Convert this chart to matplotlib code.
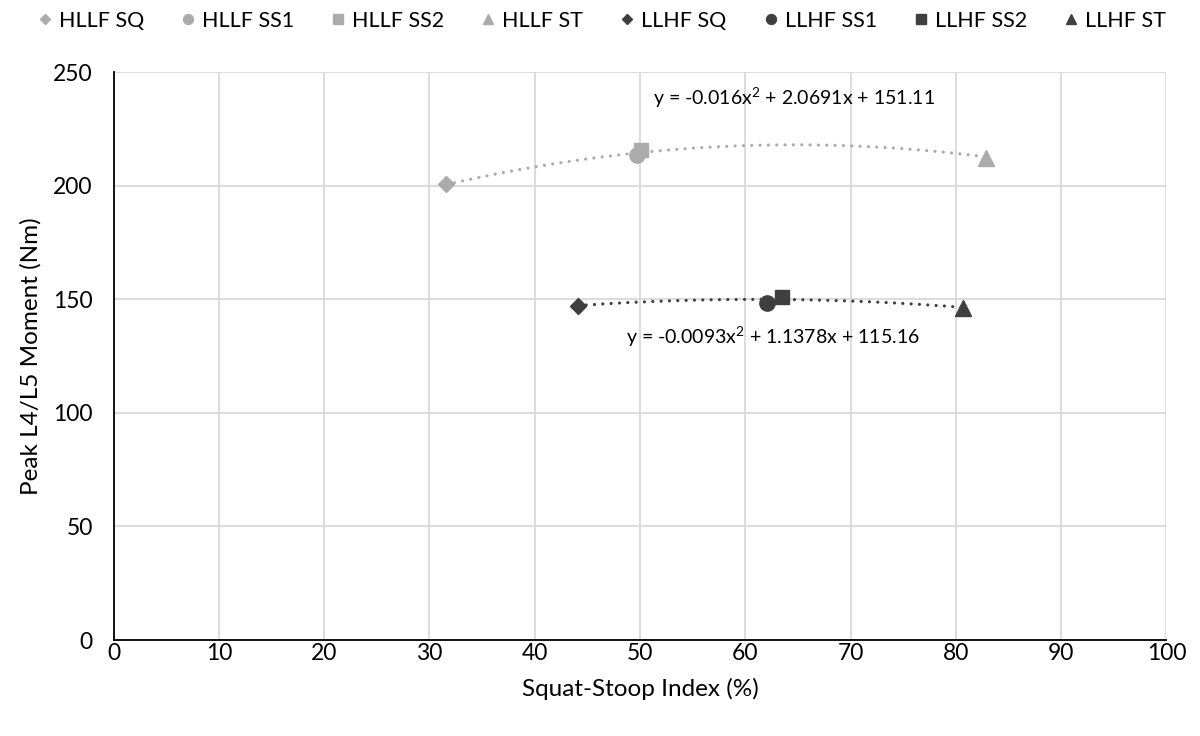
import numpy as np
import matplotlib
matplotlib.use("Agg")
import matplotlib.pyplot as plt

plt.rcParams['font.family'] = ['Lato', 'DejaVu Sans']
plt.rcParams['mathtext.fontset'] = 'custom'
plt.rcParams['mathtext.rm'] = 'Lato'
plt.rcParams['mathtext.it'] = 'Lato'
plt.rcParams['mathtext.default'] = 'rm'

# ---- data ----
series_names = ["HLLF SQ", "HLLF SS1", "HLLF SS2", "HLLF ST",
                "LLHF SQ", "LLHF SS1", "LLHF SS2", "LLHF ST"]
ssi_hllf = [31.6, 49.7, 50.1, 82.9]
moment_hllf = [200.6, 213.5, 215.7, 212.0]
ssi_llhf = [44.1, 62.1, 63.5, 80.7]
moment_llhf = [147.1, 148.2, 151.1, 146.0]
coef_hllf = [-0.016, 2.0691, 151.11]
coef_llhf = [-0.0093, 1.1378, 115.16]
eq_hllf = "y = -0.016x$^{2}$ + 2.0691x + 151.11"
eq_llhf = "y = -0.0093x$^{2}$ + 1.1378x + 115.16"
x_ticks = list(range(0, 101, 10))
y_ticks = list(range(0, 251, 50))

c_light = "#ABABAB"
c_dark = "#3F3F3F"
markers = ['D', 'o', 's', '^']
msizes = [8.5, 11, 10, 11]

fig = plt.figure(figsize=(12, 7.36), dpi=100)
ax = fig.add_axes([0.0946, 0.1304, 0.8774, 0.7716])

dot = (0, (0.01, 2.6))
for coef, xs, col in [(coef_hllf, ssi_hllf, c_light), (coef_llhf, ssi_llhf, c_dark)]:
    xx = np.linspace(min(xs), max(xs), 300)
    ax.plot(xx, np.polyval(coef, xx), color=col, lw=2.3, linestyle=dot,
            dash_capstyle='round', zorder=2)

handles = []
for i in range(4):
    h, = ax.plot([ssi_hllf[i]], [moment_hllf[i]], linestyle='none', marker=markers[i],
                 ms=msizes[i], color=c_light, mec=c_light, zorder=3, label=series_names[i])
    handles.append(h)
for i in range(4):
    h, = ax.plot([ssi_llhf[i]], [moment_llhf[i]], linestyle='none', marker=markers[i],
                 ms=msizes[i], color=c_dark, mec=c_dark, zorder=3, label=series_names[i + 4])
    handles.append(h)

ax.text(64.6, 238.5, eq_hllf, ha='center', va='center', fontsize=14, color='#000000')
ax.text(62.6, 133.4, eq_llhf, ha='center', va='center', fontsize=14, color='#000000')

ax.set_xlim(0, 100)
ax.set_ylim(0, 250)
ax.set_xticks(x_ticks)
ax.set_yticks(y_ticks)
ax.grid(True, color='#D9D9D9', lw=1.3)
ax.set_axisbelow(True)
for s in ['top', 'right']:
    ax.spines[s].set_visible(False)
for s in ['left', 'bottom']:
    ax.spines[s].set_color('#000000')
    ax.spines[s].set_linewidth(1.3)
ax.tick_params(length=0, labelsize=16.5, colors='#000000')
ax.tick_params(axis='x', pad=2)
ax.tick_params(axis='y', pad=15)
ax.set_xlabel("Squat-Stoop Index (%)", fontsize=17.5, labelpad=10)
ax.set_ylabel("Peak L4/L5 Moment (Nm)", fontsize=17.5, labelpad=8)

fig.legend(handles=handles, loc='upper center', bbox_to_anchor=(0.5, 1.012), ncol=8,
           frameon=False, fontsize=15.5, markerscale=0.65, handletextpad=0.15,
           columnspacing=1.55, handlelength=1.0)

fig.savefig("out.png", dpi=100)
